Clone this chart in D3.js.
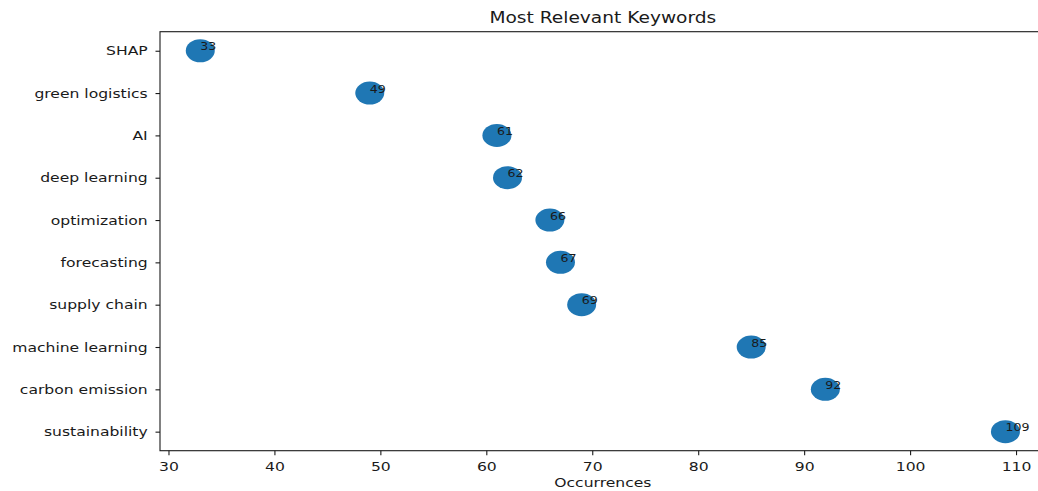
<!DOCTYPE html>
<html>
<head>
<meta charset="utf-8">
<script src="https://cdn.jsdelivr.net/npm/d3@7"></script>
<style>
  html, body { margin: 0; padding: 0; background: #fff; }
  svg { display: block; font-family: "DejaVu Sans", sans-serif; }
</style>
</head>
<body>
<svg id="chart" width="1038" height="491"></svg>
<script>
const keywords = ["SHAP", "green logistics", "AI", "deep learning", "optimization",
  "forecasting", "supply chain", "machine learning", "carbon emission", "sustainability"];
const occurrences = [33, 49, 61, 62, 66, 67, 69, 85, 92, 109];
const xTickValues = [30, 40, 50, 60, 70, 80, 90, 100, 110];
const titleText = "Most Relevant Keywords";
const xLabelText = "Occurrences";

const W = 1038, H = 491;
const SX = 1.2; // horizontal stretch of the reference
const plot = { left: 160, right: 1045.7, top: 31.7, bottom: 450.7 };
const dotColor = "#1f77b4";
const ink = "#1a1a1a";

const svg = d3.select("#chart");

const x = d3.scaleLinear().domain([29.2, 112.8]).range([plot.left, plot.right]);
const y = d3.scalePoint().domain(keywords).range([plot.top, plot.bottom]).padding(0.45);

// frame (spines)
svg.append("rect")
  .attr("x", plot.left).attr("y", plot.top)
  .attr("width", plot.right - plot.left).attr("height", plot.bottom - plot.top)
  .attr("fill", "none").attr("stroke", ink).attr("stroke-width", 1.1);

// x axis
const xAxis = svg.append("g")
  .attr("transform", `translate(0,${plot.bottom})`)
  .call(d3.axisBottom(x).tickValues(xTickValues).tickSize(4.5).tickFormat(d3.format("d")));
xAxis.select(".domain").remove();
xAxis.selectAll(".tick line").attr("stroke", ink).attr("stroke-width", 1.1);
xAxis.selectAll(".tick text")
  .attr("y", null).attr("dy", null)
  .attr("transform", `translate(0,20) scale(${SX},1)`)
  .attr("font-size", 13).attr("font-family", "DejaVu Sans").attr("fill", ink);

// y axis
const yAxis = svg.append("g")
  .attr("transform", `translate(${plot.left},0)`)
  .call(d3.axisLeft(y).tickSize(4.5));
yAxis.select(".domain").remove();
yAxis.selectAll(".tick line").attr("stroke", ink).attr("stroke-width", 1.1);
yAxis.selectAll(".tick text")
  .attr("x", 0)
  .attr("transform", `translate(-12.3,0) scale(${SX},1)`)
  .attr("font-size", 13).attr("font-family", "DejaVu Sans").attr("fill", ink);

// dots
svg.append("g").selectAll("ellipse")
  .data(keywords)
  .join("ellipse")
  .attr("cx", (d, i) => x(occurrences[i]))
  .attr("cy", d => y(d))
  .attr("rx", 14.5).attr("ry", 11.5)
  .attr("fill", dotColor);

// value labels
svg.append("g").selectAll("text")
  .data(keywords)
  .join("text")
  .attr("transform", (d, i) => `translate(${x(occurrences[i])},${y(d) - 0.5}) scale(${SX},1)`)
  .attr("font-size", 10.5)
  .attr("fill", ink)
  .text((d, i) => occurrences[i]);

// title
svg.append("text")
  .attr("transform", `translate(${(plot.left + plot.right) / 2},23) scale(${SX},1)`)
  .attr("text-anchor", "middle")
  .attr("font-size", 15.5)
  .attr("fill", ink)
  .text(titleText);

// x label
svg.append("text")
  .attr("transform", `translate(${(plot.left + plot.right) / 2},486.7) scale(${SX},1)`)
  .attr("text-anchor", "middle")
  .attr("font-size", 13)
  .attr("fill", ink)
  .text(xLabelText);
</script>
</body>
</html>
